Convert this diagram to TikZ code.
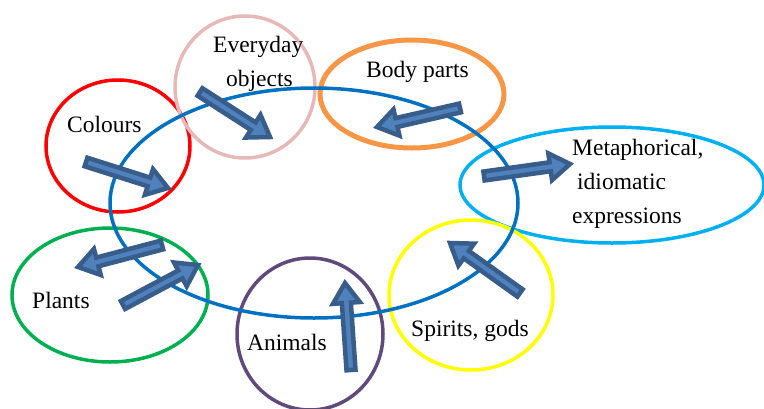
\documentclass[tikz,border=0pt]{standalone}
\usepackage{fontspec}
\setmainfont{Liberation Serif}
\usetikzlibrary{calc}
\definecolor{cred}{HTML}{FF0000}
\definecolor{cpink}{HTML}{E6B9B8}
\definecolor{corange}{HTML}{F79646}
\definecolor{clblue}{HTML}{00B0F0}
\definecolor{cyellow}{HTML}{FFFF00}
\definecolor{cpurple}{HTML}{604A7B}
\definecolor{cgreen}{HTML}{00B050}
\definecolor{cblue}{HTML}{0070C0}
\definecolor{arrfill}{HTML}{4F81BD}
\definecolor{arrline}{HTML}{385D8A}
\tikzset{
  ring/.style={line width=3.5pt},
  lbl/.style={font=\fontsize{23.5}{34}\selectfont, inner sep=0pt, anchor=base west, align=left},
  barr/.style={fill=arrfill, draw=arrline, line width=4.5pt, line join=miter}
}
\newcommand\blockarrow[3]{%
  \coordinate (#1-a) at #2;
  \coordinate (#1-b) at #3;
  \coordinate (#1-h) at ($(#1-b)!20pt!(#1-a)$);
  \draw[barr] ($(#1-a)!4.5pt!90:(#1-b)$) -- ($(#1-h)!4.5pt!90:(#1-b)$) -- ($(#1-h)!13.5pt!90:(#1-b)$) -- (#1-b) -- ($(#1-h)!13.5pt!-90:(#1-b)$) -- ($(#1-h)!4.5pt!-90:(#1-b)$) -- ($(#1-a)!4.5pt!-90:(#1-b)$) -- cycle;
}
\begin{document}
\begin{tikzpicture}[x=1pt,y=-1pt]
\useasboundingbox (0,0) rectangle (764,408);
% category rings
\draw[ring, cred] (118,146) ellipse [x radius=72, y radius=66];
\draw[ring, cpink] (245,87) ellipse [x radius=70, y radius=71];
\draw[ring, corange, line width=5pt] (412,94) ellipse [x radius=92, y radius=54];
\draw[ring, clblue] (612,185) ellipse [x radius=152, y radius=58];
\draw[ring, cyellow] (471,295) ellipse [x radius=82, y radius=75];
\draw[ring, cpurple] (310,334) ellipse [x radius=73, y radius=76];
\draw[ring, cgreen] (110,295) ellipse [x radius=98, y radius=67];
% central ring
\draw[ring, cblue] (314,203) ellipse [x radius=204, y radius=115];
% labels
\node[lbl] (colours) at (67,132) {Colours};
\node[lbl] (everyday) at (213,52) {Everyday};
\node[lbl] (objects) at (226,86) {objects};
\node[lbl] (body) at (366,77) {Body parts};
\node[lbl] (meta1) at (572,155) {Metaphorical,};
\node[lbl] (meta2) at (577,189) {idiomatic};
\node[lbl] (meta3) at (572,223) {expressions};
\node[lbl] (spirits) at (411,336) {Spirits, gods};
\node[lbl] (animals) at (247,350) {Animals};
\node[lbl] (plants) at (32,308) {Plants};
% block arrows
\blockarrow{a1}{(200,92)}{(270,137)}
\blockarrow{a2}{(460,108)}{(377,127)}
\blockarrow{a3}{(484,176)}{(570,164)}
\blockarrow{a4}{(86,162)}{(168,188)}
\blockarrow{a5}{(162,245)}{(78,267)}
\blockarrow{a6}{(123,305)}{(198,265)}
\blockarrow{a7}{(351,370)}{(345,283)}
\blockarrow{a8}{(520,293)}{(450,243)}
\end{tikzpicture}
\end{document}
